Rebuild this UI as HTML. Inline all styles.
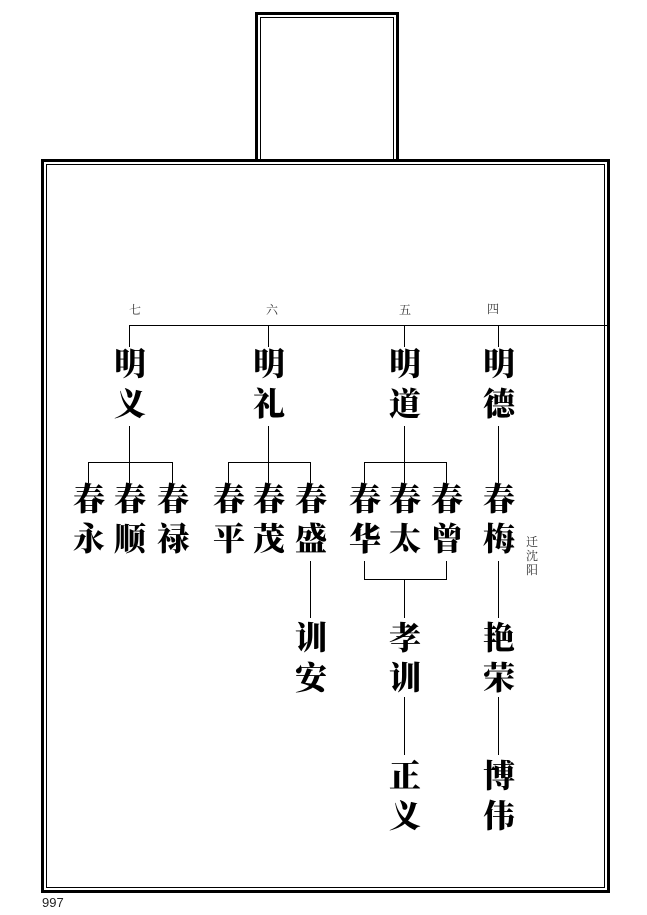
<!DOCTYPE html>
<html><head><meta charset="utf-8"><style>
html,body{margin:0;padding:0;background:#fff;width:647px;height:915px;overflow:hidden;position:relative}
.b{position:absolute;box-sizing:border-box}
.l{position:absolute;background:#000}
.n{position:absolute;width:40px;margin-left:-20px;text-align:center;font-family:"Liberation Serif","Noto Serif CJK SC",serif;font-weight:900;font-size:32px;line-height:40px;color:#000}
.s{position:absolute;width:20px;margin-left:-10px;text-align:center;font-family:"Liberation Serif","Noto Serif CJK SC",serif;font-size:12px;line-height:14px;color:#333}
</style></head><body>
<div class="b" style="left:255px;top:12px;width:144px;height:150px;border:3px solid #000;border-bottom:none"></div>
<div class="b" style="left:260px;top:17px;width:134px;height:145px;border:1px solid #000;border-bottom:none"></div>
<div class="b" style="left:41px;top:159px;width:569px;height:734px;border:3px solid #000;background:transparent"></div>
<div class="b" style="left:46px;top:164px;width:559px;height:724px;border:1px solid #000"></div>

<div class="s" style="left:135px;top:303px">七</div>
<div class="s" style="left:272px;top:303px">六</div>
<div class="s" style="left:405px;top:303px">五</div>
<div class="s" style="left:493px;top:302px">四</div>
<div class="l" style="left:129px;top:325px;width:480px;height:1px"></div>

<div class="l" style="left:129px;top:325px;width:1px;height:22px"></div>
<div class="l" style="left:268px;top:325px;width:1px;height:22px"></div>
<div class="l" style="left:404px;top:325px;width:1px;height:22px"></div>
<div class="l" style="left:498px;top:325px;width:1px;height:22px"></div>
<div class="n" style="left:130px;top:344px">明<br>义</div>
<div class="n" style="left:269px;top:344px">明<br>礼</div>
<div class="n" style="left:405px;top:344px">明<br>道</div>
<div class="n" style="left:499px;top:344px">明<br>德</div>

<div class="l" style="left:129px;top:426px;width:1px;height:57px"></div>
<div class="l" style="left:88px;top:462px;width:85px;height:1px"></div>
<div class="l" style="left:88px;top:462px;width:1px;height:21px"></div>
<div class="l" style="left:172px;top:462px;width:1px;height:21px"></div>
<div class="n" style="left:89px;top:479px">春<br>永</div>
<div class="n" style="left:130px;top:479px">春<br>顺</div>
<div class="n" style="left:173px;top:479px">春<br>禄</div>

<div class="l" style="left:268px;top:426px;width:1px;height:57px"></div>
<div class="l" style="left:228px;top:462px;width:83px;height:1px"></div>
<div class="l" style="left:228px;top:462px;width:1px;height:21px"></div>
<div class="l" style="left:310px;top:462px;width:1px;height:21px"></div>
<div class="n" style="left:229px;top:479px">春<br>平</div>
<div class="n" style="left:269px;top:479px">春<br>茂</div>
<div class="n" style="left:311px;top:479px">春<br>盛</div>
<div class="l" style="left:310px;top:561px;width:1px;height:57px"></div>
<div class="n" style="left:311px;top:618px">训<br>安</div>

<div class="l" style="left:404px;top:426px;width:1px;height:57px"></div>
<div class="l" style="left:364px;top:462px;width:83px;height:1px"></div>
<div class="l" style="left:364px;top:462px;width:1px;height:21px"></div>
<div class="l" style="left:446px;top:462px;width:1px;height:21px"></div>
<div class="n" style="left:365px;top:479px">春<br>华</div>
<div class="n" style="left:405px;top:479px">春<br>太</div>
<div class="n" style="left:447px;top:479px">春<br>曾</div>
<div class="l" style="left:364px;top:561px;width:1px;height:19px"></div>
<div class="l" style="left:446px;top:561px;width:1px;height:19px"></div>
<div class="l" style="left:364px;top:579px;width:83px;height:1px"></div>
<div class="l" style="left:404px;top:579px;width:1px;height:39px"></div>
<div class="n" style="left:405px;top:618px">孝<br>训</div>
<div class="l" style="left:404px;top:697px;width:1px;height:58px"></div>
<div class="n" style="left:405px;top:756px">正<br>义</div>

<div class="l" style="left:498px;top:426px;width:1px;height:57px"></div>
<div class="n" style="left:499px;top:479px">春<br>梅</div>
<div class="s" style="left:532px;top:535px">迁<br>沈<br>阳</div>
<div class="l" style="left:498px;top:561px;width:1px;height:57px"></div>
<div class="n" style="left:499px;top:618px">艳<br>荣</div>
<div class="l" style="left:498px;top:697px;width:1px;height:58px"></div>
<div class="n" style="left:499px;top:756px">博<br>伟</div>

<div style="position:absolute;left:42px;top:895px;font-family:'Liberation Sans',sans-serif;font-size:13px;color:#222">997</div>
</body></html>
